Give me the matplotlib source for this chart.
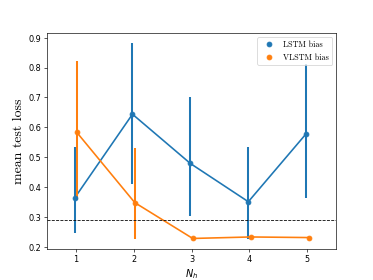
import numpy as np
import matplotlib
matplotlib.use('Agg')
import matplotlib.pyplot as plt
from matplotlib.lines import Line2D

# hidden units
n_h = [1, 2, 3, 4, 5]

# LSTM bias: mean and spread
lstm_mean = [0.363, 0.644, 0.479, 0.351, 0.579]
lstm_low = [0.246, 0.41, 0.304, 0.226, 0.362]
lstm_high = [0.533, 0.882, 0.70, 0.533, 0.812]

# VLSTM bias: mean and spread
vlstm_mean = [0.583, 0.348, 0.228, 0.233, 0.231]
vlstm_low = [0.356, 0.226, 0.225, 0.230, 0.228]
vlstm_high = [0.823, 0.53, 0.231, 0.236, 0.234]

baseline = 0.29

blue = '#1f77b4'
orange = '#ff7f0e'

fig, ax = plt.subplots(figsize=(6.4, 4.8), dpi=58.4)

x = np.array(n_h, dtype=float)
series = [
    (lstm_mean, lstm_low, lstm_high, blue, -0.02),
    (vlstm_mean, vlstm_low, vlstm_high, orange, 0.02),
]
for mean, low, high, col, off in series:
    mean = np.array(mean)
    yerr = [mean - np.array(low), np.array(high) - mean]
    ax.errorbar(x + off, mean, yerr=yerr, fmt='o', color=col, ms=6,
                elinewidth=2.5, capsize=0)
    ax.plot(x + off, mean, '-', color=col, lw=2)

ax.axhline(baseline, color='black', ls='--', lw=1)

ax.set_xlim(0.5, 5.5)
ax.set_xticks(n_h)
ax.set_xlabel('$N_h$', fontsize=12)
ax.set_ylabel('mean test loss', family='cmr10', fontsize=17)

handles = [Line2D([], [], marker='o', ls='none', color=blue, ms=6),
           Line2D([], [], marker='o', ls='none', color=orange, ms=6)]
ax.legend(handles, ['LSTM bias', 'VLSTM bias'], loc='upper right',
          prop={'family': 'cmr10', 'size': 10})

fig.savefig('out.png', dpi=58.4)
